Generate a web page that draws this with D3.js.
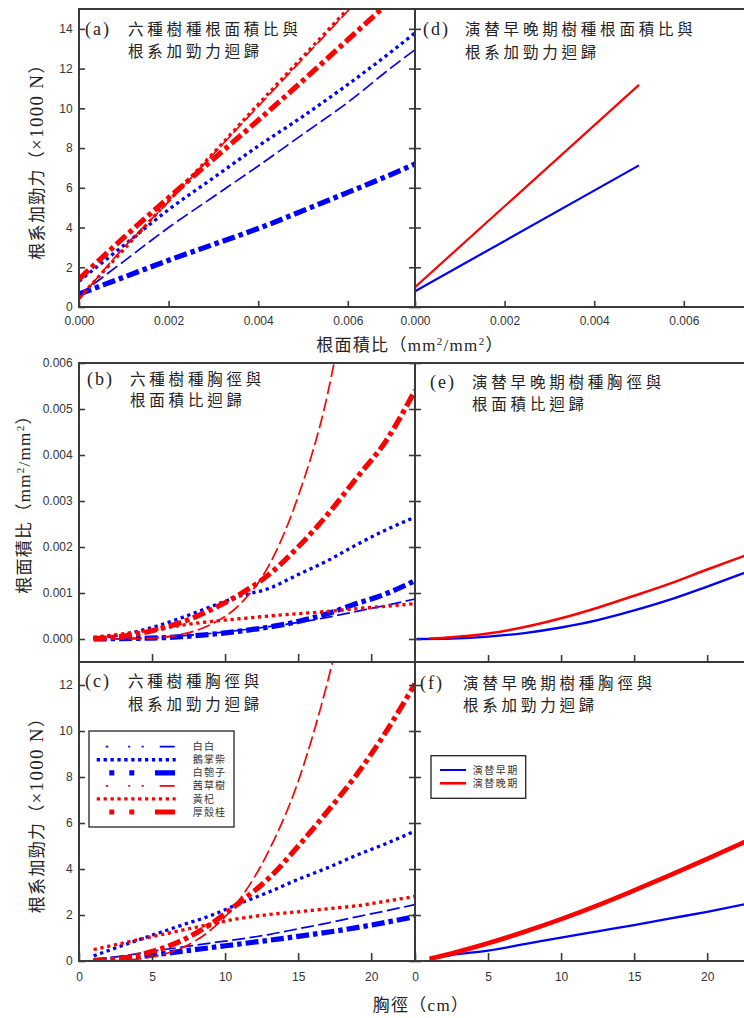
<!DOCTYPE html>
<html><head><meta charset="utf-8">
<script src="https://cdn.jsdelivr.net/npm/d3@7"></script>
<style>body{margin:0;background:#fff}svg{display:block}</style>
</head><body>
<svg id="c" width="744" height="1018"></svg>
<script>
// ---------- DATA ----------
const speciesNames = ["白白","鵝掌柴","白匏子","茜草樹","黃杞","厚殼桂"];
const stageNames = ["演替早期","演替晚期"];

// (a) root area ratio -> root reinforcement (x1000 N)
const rarA = [0, 0.001, 0.002, 0.003, 0.004, 0.005, 0.006, 0.007, 0.0075];
const aBaiBai  = [0.6, 2.3, 4.0, 5.55, 7.1, 8.7, 10.3, 12.1, 12.95];
const aEZhang  = [1.3, 3.1, 4.9, 6.5, 8.1, 9.6, 11.2, 12.9, 13.8];
const aBaiPao  = [0.65, 1.5, 2.35, 3.15, 3.95, 4.85, 5.77, 6.7, 7.2];
const aQianCao = [0.37, 3.0, 5.3, 7.7, 10.1, 12.5, 14.9, 17.3, 18.5];
const aHuangQi = [0.45, 2.9, 5.35, 7.75, 10.2, 12.6, 15.0, 17.4, 18.6];
const aHouKe   = [1.4, 3.5, 5.5, 7.45, 9.4, 11.4, 13.45, 15.5, 16.5];

// (d) early / late succession
const rarD = [0, 0.005];
const dEarly = [0.79, 7.13];
const dLate  = [1.0, 11.18];

// (b) DBH -> root area ratio
const dbh  = [1, 3, 5, 7, 9, 11, 13, 15, 17, 19, 21, 23];
const dbhQ = [1, 3, 5, 7, 9, 11, 13, 15, 17, 18];
const bBaiBai  = [0, 0.00001, 0.00003, 0.00007, 0.00012, 0.00019, 0.00027, 0.00036, 0.00047, 0.0006, 0.00073, 0.00087];
const bEZhang  = [0.00002, 0.0001, 0.00025, 0.00046, 0.0007, 0.00093, 0.0011, 0.0014, 0.0017, 0.00205, 0.00237, 0.00265];
const bBaiPao  = [0, 0.00001, 0.00002, 0.00005, 0.0001, 0.00017, 0.00026, 0.00038, 0.00055, 0.00077, 0.00098, 0.00127];
const bQianCao = [0, 0, 0.00002, 0.0001, 0.00031, 0.00075, 0.0016, 0.0031, 0.0053, 0.0069];
const bHuangQi = [0.00004, 0.00011, 0.0002, 0.0003, 0.00038, 0.00044, 0.0005, 0.00055, 0.0006, 0.00066, 0.00071, 0.00077];
const bHouKe   = [0.00001, 0.00006, 0.00018, 0.00036, 0.00063, 0.00097, 0.0014, 0.002, 0.0027, 0.0035, 0.0043, 0.0054];

// (c) DBH -> root reinforcement (x1000 N)
const cBaiBai  = [0.05, 0.22, 0.42, 0.6, 0.78, 0.95, 1.15, 1.4, 1.65, 1.92, 2.18, 2.45];
const cEZhang  = [0.22, 0.68, 1.12, 1.55, 1.97, 2.5, 3.0, 3.55, 4.05, 4.6, 5.1, 5.65];
const cBaiPao  = [0.02, 0.12, 0.26, 0.42, 0.58, 0.74, 0.9, 1.07, 1.25, 1.45, 1.68, 1.93];
const cQianCao = [0, 0.03, 0.18, 0.56, 1.34, 2.68, 4.8, 7.8, 12.1, 14.7];
const cHuangQi = [0.5, 0.78, 1.06, 1.33, 1.6, 1.85, 2.02, 2.14, 2.27, 2.4, 2.6, 2.81];
const cHouKe   = [0.02, 0.13, 0.41, 0.88, 1.6, 2.55, 3.6, 4.99, 6.5, 8.1, 9.95, 12.05];

// (e) DBH -> root area ratio, stages
const eDbhEarly = [0.1, 2.5, 5, 7.5, 10, 12.5, 15, 17.5, 20, 23];
const eDbhLate  = [1, 2.5, 5, 7.5, 10, 12.5, 15, 17.5, 20, 23];
const eEarly = [0, 0.00001, 0.00005, 0.00013, 0.00025, 0.00041, 0.00062, 0.00086, 0.00114, 0.00149];
const eLate  = [0.00001, 0.00004, 0.00012, 0.00026, 0.00045, 0.00068, 0.00094, 0.00121, 0.00151, 0.00186];

// (f) DBH -> root reinforcement, stages
const fDbh = [1, 2.5, 5, 7.5, 10, 12.5, 15, 17.5, 20, 23];
const fEarly = [0.09, 0.26, 0.45, 0.73, 1.02, 1.29, 1.56, 1.85, 2.14, 2.52];
const fLate  = [0.1, 0.33, 0.77, 1.27, 1.82, 2.42, 3.07, 3.74, 4.44, 5.3];

// tick values
const rarTicks = [0, 0.002, 0.004, 0.006];
const forceTicksA = [0, 2, 4, 6, 8, 10, 12, 14];
const rarTicksY = [0, 0.001, 0.002, 0.003, 0.004, 0.005, 0.006];
const dbhTicks = [0, 5, 10, 15, 20];
const forceTicksC = [0, 2, 4, 6, 8, 10, 12];

// ---------- STYLE ----------
const BLUE = "#0000ff", RED = "#ff0000", AX = "#3a3a3a";
const styles = {
  thin:   {w: 1.7, dash: "13,4.5"},
  dotted: {w: 3.3, dash: "3.3,3.6"},
  thick:  {w: 5.2, dash: "13,4,4.5,4"}
};
const speciesStyle = ["thin","dotted","thick","thin","dotted","thick"];
const speciesColor = [BLUE, BLUE, BLUE, RED, RED, RED];
const CJK = "'Noto Sans CJK TC','Noto Sans CJK SC',sans-serif";
const SERIF = "'Liberation Serif','Noto Sans CJK TC',serif";
const SANS = "'Liberation Sans',Arial,sans-serif";

const svg = d3.select("#c");
const defs = svg.append("defs");

const L = 79, M = 415, R = 751;

function makePanel(p) {
  const x = d3.scaleLinear().domain(p.xDomain).range([p.x0, p.x1]);
  const y = d3.scaleLinear().domain(p.yDomain).range([p.y1, p.y0]);
  defs.append("clipPath").attr("id", "clip-" + p.id).append("rect")
    .attr("x", p.x0).attr("y", p.y0).attr("width", p.x1 - p.x0).attr("height", p.y1 - p.y0);
  const g = svg.append("g");
  const lines = g.append("g").attr("clip-path", `url(#clip-${p.id})`);
  return {x, y, g, lines, p};
}

function drawAxes(P, o) {
  const {x, y, g, p} = P;
  const ab = d3.axisBottom(x).tickValues(o.xTicks).tickSizeInner(-o.xTickLen).tickSizeOuter(0)
    .tickPadding(o.xPad).tickFormat(o.xFmt || "");
  const gb = g.append("g").attr("transform", `translate(0,${p.y1})`).call(ab);
  const al = d3.axisLeft(y).tickValues(o.yTicks).tickSizeInner(-6).tickSizeOuter(0)
    .tickPadding(6.3).tickFormat(o.yFmt || "");
  const gl = g.append("g").attr("transform", `translate(${p.x0},0)`).call(al);
  const ar = d3.axisRight(y).tickValues(o.yTicks).tickSizeInner(-6).tickSizeOuter(0).tickFormat("");
  const gr = g.append("g").attr("transform", `translate(${p.x1},0)`).call(ar);
  [gb, gl, gr].forEach(s => {
    s.select(".domain").remove();
    s.selectAll(".tick line").attr("stroke", AX).attr("stroke-width", 1.6);
    s.selectAll(".tick text").attr("fill", "#333").style("font-family", SANS).style("font-size", "12px");
  });
  g.append("rect").attr("x", p.x0).attr("y", p.y0).attr("width", p.x1 - p.x0).attr("height", p.y1 - p.y0)
    .attr("fill", "none").attr("stroke", AX).attr("stroke-width", 2);
}

function drawLine(P, xs, ys, color, st) {
  const gen = d3.line().x((d, i) => P.x(xs[i])).y(d => P.y(d)).curve(d3.curveMonotoneX);
  P.lines.append("path").datum(ys).attr("d", gen).attr("fill", "none")
    .attr("stroke", color).attr("stroke-width", st.w)
    .attr("stroke-dasharray", st.dash || null).attr("stroke-linecap", "butt");
}

function title(px, cx, b1, b2, letter, l1, l2) {
  svg.append("text").attr("x", px).attr("y", b1).text(`(${letter})`)
    .style("font-family", SERIF).style("font-size", "18px").attr("fill", "#222").attr("letter-spacing", 2);
  svg.append("text").attr("x", cx).attr("y", b1).text(l1)
    .style("font-family", CJK).style("font-size", "15.5px").attr("fill", "#222").attr("letter-spacing", 3.8);
  svg.append("text").attr("x", cx).attr("y", b2).text(l2)
    .style("font-family", CJK).style("font-size", "15.5px").attr("fill", "#222").attr("letter-spacing", 3.8);
}

const fmt3 = d3.format(".3f");
const fmt0 = d3.format("d");

// ---------- PANEL A ----------
const A = makePanel({id: "a", x0: L, x1: M, y0: 9, y1: 307, xDomain: [0, 0.0075], yDomain: [0, 15]});
const aSeries = [aBaiBai, aEZhang, aBaiPao, aQianCao, aHuangQi, aHouKe];
aSeries.forEach((ys, i) => drawLine(A, rarA, ys, speciesColor[i], styles[speciesStyle[i]]));
drawAxes(A, {xTicks: rarTicks, xTickLen: 6, xPad: 9.5, xFmt: fmt3, yTicks: forceTicksA, yFmt: fmt0});

// ---------- PANEL D ----------
const D = makePanel({id: "d", x0: M, x1: R, y0: 9, y1: 307, xDomain: [0, 0.0075], yDomain: [0, 15]});
drawLine(D, rarD, dEarly, BLUE, {w: 2.2});
drawLine(D, rarD, dLate, RED, {w: 2.2});
drawAxes(D, {xTicks: rarTicks, xTickLen: 6, xPad: 9.5, xFmt: fmt3, yTicks: forceTicksA});

// ---------- PANEL B ----------
const B = makePanel({id: "b", x0: L, x1: M, y0: 363, y1: 662, xDomain: [0, 23], yDomain: [-0.0005, 0.006]});
const bSeries = [bBaiBai, bEZhang, bBaiPao, bQianCao, bHuangQi, bHouKe];
bSeries.forEach((ys, i) => drawLine(B, i === 3 ? dbhQ : dbh, ys, speciesColor[i], styles[speciesStyle[i]]));
drawAxes(B, {xTicks: dbhTicks.slice(1), xTickLen: 8, xPad: 9, yTicks: rarTicksY, yFmt: fmt3});

// ---------- PANEL E ----------
const E = makePanel({id: "e", x0: M, x1: R, y0: 363, y1: 662, xDomain: [0, 23], yDomain: [-0.0005, 0.006]});
drawLine(E, eDbhEarly, eEarly, BLUE, {w: 2.3});
drawLine(E, eDbhLate, eLate, RED, {w: 2.5});
drawAxes(E, {xTicks: dbhTicks.slice(1), xTickLen: 7, xPad: 9, yTicks: rarTicksY});

// ---------- PANEL C ----------
const C = makePanel({id: "c", x0: L, x1: M, y0: 662, y1: 961, xDomain: [0, 23], yDomain: [0, 13]});
const cSeries = [cBaiBai, cEZhang, cBaiPao, cQianCao, cHuangQi, cHouKe];
cSeries.forEach((ys, i) => drawLine(C, i === 3 ? dbhQ : dbh, ys, speciesColor[i], styles[speciesStyle[i]]));
drawAxes(C, {xTicks: dbhTicks, xTickLen: 8, xPad: 11, xFmt: fmt0, yTicks: forceTicksC, yFmt: fmt0});

// ---------- PANEL F ----------
const F = makePanel({id: "f", x0: M, x1: R, y0: 662, y1: 961, xDomain: [0, 23], yDomain: [0, 13]});
drawLine(F, fDbh, fEarly, BLUE, {w: 2.3});
drawLine(F, fDbh, fLate, RED, {w: 4.6});
drawAxes(F, {xTicks: dbhTicks, xTickLen: 8, xPad: 11, xFmt: fmt0, yTicks: forceTicksC});

// ---------- TITLES ----------
title(85, 128, 34.5, 57, "a", "六種樹種根面積比與", "根系加勁力迴歸");
title(423, 465, 34.5, 58, "d", "演替早晚期樹種根面積比與", "根系加勁力迴歸");
title(87, 130, 384.5, 406, "b", "六種樹種胸徑與", "根面積比迴歸");
title(430, 472, 388, 409.5, "e", "演替早晚期樹種胸徑與", "根面積比迴歸");
title(85, 128, 687, 709.5, "c", "六種樹種胸徑與", "根系加勁力迴歸");
title(420, 463, 689, 710.5, "f", "演替早晚期樹種胸徑與", "根系加勁力迴歸");

// ---------- AXIS TITLES ----------
function forceLabel(cx, cy) {
  const t = svg.append("text").attr("transform", `translate(${cx},${cy}) rotate(-90)`)
    .attr("text-anchor", "middle").attr("fill", "#222").attr("letter-spacing", 1.3)
    .style("font-size", "17px");
  t.append("tspan").style("font-family", CJK).text("根系加勁力");
  t.append("tspan").style("font-family", CJK).text("（");
  t.append("tspan").style("font-family", SERIF).style("font-size", "19px").text("×1000 N");
  t.append("tspan").style("font-family", CJK).text("）");
}
function rarLabel(sel) {
  sel.append("tspan").style("font-family", CJK).text("根面積比");
  sel.append("tspan").style("font-family", CJK).text("（");
  sel.append("tspan").style("font-family", SERIF).text("mm");
  sel.append("tspan").style("font-family", SERIF).style("font-size", "11px").attr("dy", -6).text("2");
  sel.append("tspan").style("font-family", SERIF).attr("dy", 6).text("/mm");
  sel.append("tspan").style("font-family", SERIF).style("font-size", "11px").attr("dy", -6).text("2");
  sel.append("tspan").style("font-family", CJK).attr("dy", 6).text("）");
}
forceLabel(43, 157.5);
forceLabel(43, 811);
rarLabel(svg.append("text").attr("transform", "translate(29.5,500) rotate(-90)")
  .attr("text-anchor", "middle").attr("fill", "#222").attr("letter-spacing", 1.3).style("font-size", "17px"));
rarLabel(svg.append("text").attr("x", 410).attr("y", 351)
  .attr("text-anchor", "middle").attr("fill", "#222").attr("letter-spacing", 1.3).style("font-size", "17px"));
{
  const t = svg.append("text").attr("x", 421).attr("y", 1011).attr("text-anchor", "middle")
    .attr("fill", "#222").attr("letter-spacing", 1.3).style("font-size", "17px");
  t.append("tspan").style("font-family", CJK).text("胸徑（");
  t.append("tspan").style("font-family", SERIF).text("cm");
  t.append("tspan").style("font-family", CJK).text("）");
}

// ---------- LEGENDS ----------
const legendDash = {
  thin:   "0,9,2.5,20,2,11.5,2,16,15,20",
  dotted: "3.3,3.6",
  thick:  "0,12.6,5,15,5,20.7,20,20"
};
const lg = svg.append("g");
lg.append("rect").attr("x", 89).attr("y", 731).attr("width", 145).attr("height", 96)
  .attr("fill", "#fff").attr("stroke", "#222").attr("stroke-width", 1.3);
const legRowY = d3.scaleLinear().domain([0, 5]).range([746.7, 812]);
speciesNames.forEach((n, i) => {
  const yy = legRowY(i);
  lg.append("line").attr("x1", 96.7).attr("x2", 175.7).attr("y1", yy).attr("y2", yy)
    .attr("stroke", speciesColor[i]).attr("stroke-width", styles[speciesStyle[i]].w)
    .attr("stroke-dasharray", legendDash[speciesStyle[i]]);
  lg.append("text").attr("x", 192.7).attr("y", yy + 3.6).text(n)
    .style("font-family", CJK).style("font-size", "10px").attr("fill", "#333").attr("letter-spacing", 1.2);
});
const lf = svg.append("g");
lf.append("rect").attr("x", 431).attr("y", 755.7).attr("width", 94.7).attr("height", 42.6)
  .attr("fill", "#fff").attr("stroke", "#222").attr("stroke-width", 1.3);
[[BLUE, 2, 770], [RED, 2.6, 783.3]].forEach((d, i) => {
  lf.append("line").attr("x1", 440).attr("x2", 466).attr("y1", d[2]).attr("y2", d[2])
    .attr("stroke", d[0]).attr("stroke-width", d[1]);
  lf.append("text").attr("x", 472.7).attr("y", d[2] + 3.6).text(stageNames[i])
    .style("font-family", CJK).style("font-size", "10px").attr("fill", "#333").attr("letter-spacing", 1.5);
});
</script>
</body></html>
